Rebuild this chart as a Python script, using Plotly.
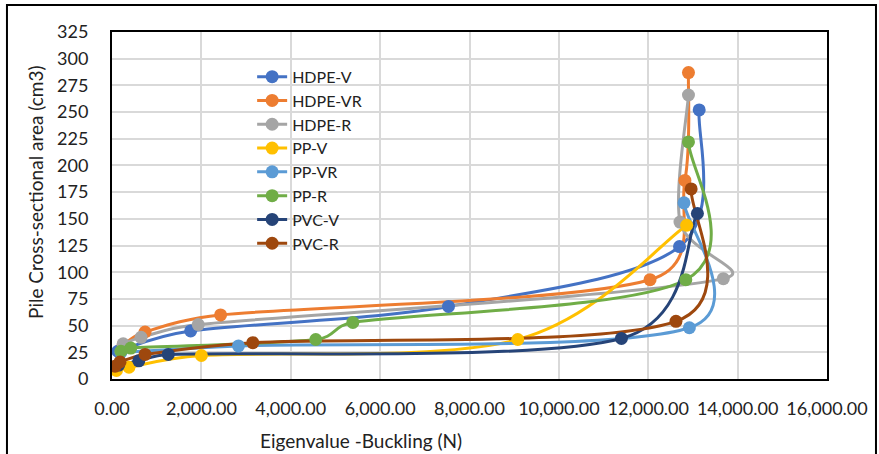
import math
import plotly.graph_objects as go

# Eigenvalue buckling load (N) vs pile cross-sectional area (cm3)
series_names = ["HDPE-V", "HDPE-VR", "HDPE-R", "PP-V", "PP-VR", "PP-R", "PVC-V", "PVC-R"]
series_colors = ["#4472C4", "#ED7D31", "#A5A5A5", "#FFC000", "#5B9BD5", "#70AD47", "#264478", "#9E480E"]

hdpe_v_x = [130, 1760, 7530, 12700, 13140]
hdpe_v_y = [26, 45, 68, 124, 252]

hdpe_vr_x = [250, 740, 2430, 12040, 12820, 12900]
hdpe_vr_y = [32, 44, 60, 93, 186, 287]

hdpe_r_x = [250, 650, 1930, 13680, 12710, 12900]
hdpe_r_y = [33, 39, 51, 94, 147, 266]

pp_v_x = [100, 380, 2000, 9080, 12860]
pp_v_y = [8, 11, 22, 37, 144]

pp_vr_x = [200, 2830, 12920, 12800]
pp_vr_y = [25, 31, 48, 165]

pp_r_x = [200, 420, 4560, 5390, 12840, 12900]
pp_r_y = [26, 29, 37, 53, 93, 222]

pvc_v_x = [150, 600, 1260, 11400, 13100]
pvc_v_y = [13, 17, 23, 38, 155]

pvc_r_x = [70, 180, 740, 3150, 12620, 12960]
pvc_r_y = [12, 16, 23, 34, 54, 178]

series_x = [hdpe_v_x, hdpe_vr_x, hdpe_r_x, pp_v_x, pp_vr_x, pp_r_x, pvc_v_x, pvc_r_x]
series_y = [hdpe_v_y, hdpe_vr_y, hdpe_r_y, pp_v_y, pp_vr_y, pp_r_y, pvc_v_y, pvc_r_y]

x_ticks = list(range(0, 16001, 2000))
y_ticks = list(range(0, 326, 25))

x_title = "Eigenvalue -Buckling (N)"
y_title = "Pile Cross-sectional area (cm3)"

FONT = "Lato"
W, H = 879, 454
M = dict(l=112, r=52, t=32, b=75)
X_RANGE = [0, 16000]
Y_RANGE = [0, 325]

# pixels per data unit inside the plotting area
sx = (W - M["l"] - M["r"]) / (X_RANGE[1] - X_RANGE[0])
sy = (H - M["t"] - M["b"]) / (Y_RANGE[1] - Y_RANGE[0])


def smooth_path(xs, ys):
    """Cubic Bezier path through the points (spreadsheet-style smoothed line).

    Tangents are (P[i+1]-P[i-1])/6 measured in screen pixels, with each handle
    capped at half of its segment length; the path itself is in data units.
    """
    pts = [(x * sx, y * sy) for x, y in zip(xs, ys)]
    n = len(pts)

    def handle(a, b, seg_len):
        tx, ty = (b[0] - a[0]) / 6.0, (b[1] - a[1]) / 6.0
        ln = math.hypot(tx, ty)
        cap = seg_len / 2.0
        if ln > cap and ln > 0:
            tx, ty = tx * cap / ln, ty * cap / ln
        return tx, ty

    d = f"M {xs[0]},{ys[0]}"
    for i in range(n - 1):
        p0 = pts[i - 1] if i > 0 else pts[i]
        p1, p2 = pts[i], pts[i + 1]
        p3 = pts[i + 2] if i + 2 < n else pts[i + 1]
        seg = math.hypot(p2[0] - p1[0], p2[1] - p1[1])
        t1 = handle(p0, p2, seg)
        t2 = handle(p1, p3, seg)
        c1 = ((p1[0] + t1[0]) / sx, (p1[1] + t1[1]) / sy)
        c2 = ((p2[0] - t2[0]) / sx, (p2[1] - t2[1]) / sy)
        d += (f" C {c1[0]:.3f},{c1[1]:.3f} {c2[0]:.3f},{c2[1]:.3f}"
              f" {xs[i + 1]},{ys[i + 1]}")
    return d


fig = go.Figure()
shapes = []
for name, color, xs, ys in zip(series_names, series_colors, series_x, series_y):
    shapes.append(dict(
        type="path", xref="x", yref="y", path=smooth_path(xs, ys),
        line=dict(color=color, width=3), layer="between",
    ))
    fig.add_trace(go.Scatter(
        x=xs, y=ys, name=name, mode="markers",
        marker=dict(color=color, size=13, symbol="circle"),
        showlegend=False, legendgroup=name,
    ))
    # legend entry showing the line with its marker
    fig.add_trace(go.Scatter(
        x=[None], y=[None], name=name, mode="lines+markers",
        line=dict(color=color, width=3),
        marker=dict(color=color, size=13, symbol="circle"),
        legendgroup=name, showlegend=True,
    ))

# outer chart border
shapes.append(dict(
    type="rect", xref="paper", yref="paper",
    x0=-0.1469, x1=1.0685, y0=-0.4, y1=1.0778,
    line=dict(color="black", width=2), fillcolor="rgba(0,0,0,0)",
    layer="below",
))

annotations = [
    dict(text=x_title, xref="paper", yref="paper", x=0.348, y=-0.176,
         xanchor="center", yanchor="middle", showarrow=False,
         font=dict(family=FONT, size=19, color="#222222")),
    dict(text=y_title, xref="paper", yref="paper", x=-0.1063, y=0.539,
         xanchor="center", yanchor="middle", showarrow=False, textangle=-90,
         font=dict(family=FONT, size=19, color="#222222")),
]

fig.update_layout(
    width=W, height=H,
    margin=M,
    paper_bgcolor="white", plot_bgcolor="white",
    font=dict(family=FONT, size=18, color="#222222"),
    showlegend=True,
    legend=dict(
        x=0.196, y=0.92, xanchor="left", yanchor="top",
        bgcolor="rgba(0,0,0,0)", borderwidth=0,
        font=dict(family=FONT, size=16, color="#222222"),
        tracegroupgap=0,
    ),
    xaxis=dict(
        range=X_RANGE, tickvals=x_ticks, tickformat=",.2f",
        showgrid=True, gridcolor="#d9d9d9", gridwidth=2,
        showline=True, linecolor="black", linewidth=2, mirror=True,
        zeroline=False, ticks="", ticklabelstandoff=12, automargin=False,
        tickfont=dict(family=FONT, size=18),
    ),
    yaxis=dict(
        range=Y_RANGE, tickvals=y_ticks,
        showgrid=True, gridcolor="#d9d9d9", gridwidth=2,
        showline=True, linecolor="black", linewidth=2, mirror=True,
        zeroline=False, ticks="", ticklabelstandoff=18, automargin=False,
        tickfont=dict(family=FONT, size=18),
    ),
    shapes=shapes,
    annotations=annotations,
)

fig.write_html("out.html")
